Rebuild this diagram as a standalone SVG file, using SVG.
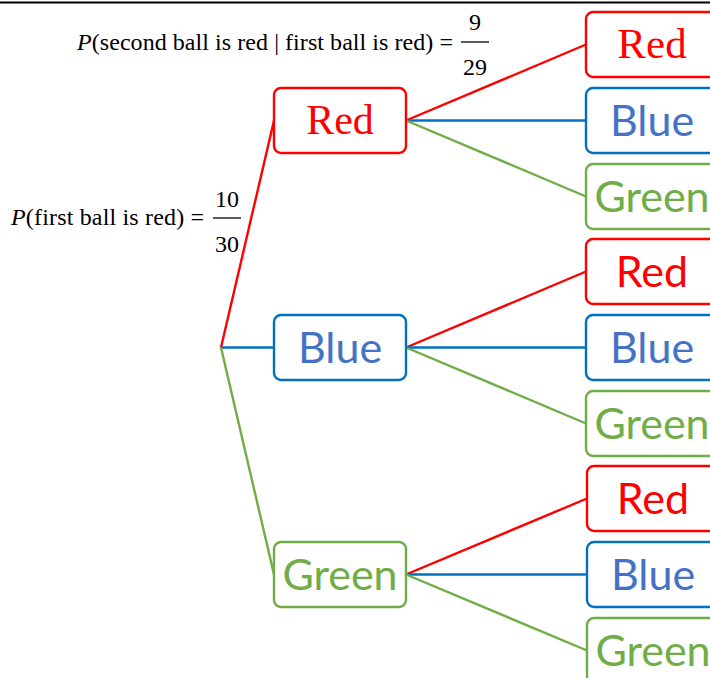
<svg xmlns="http://www.w3.org/2000/svg" width="710" height="678" viewBox="0 0 710 678">
  <style>
    .box { fill: #ffffff; stroke-width: 2.4; }
    .r { stroke: #ff0000; }
    .b { stroke: #0070c0; }
    .g { stroke: #70ad47; }
    .edge { fill: none; stroke-width: 2.4; }
    .serif { font-family: "Liberation Serif", "Times New Roman", serif; }
    .sans { font-family: Lato, "Open Sans", sans-serif; font-size: 43px; }
    .lab { text-anchor: middle; }
    .tr { fill: #ff0000; }
    .tb { fill: #4472c4; }
    .tg { fill: #70ad47; }
    .math { font-family: "Liberation Serif", "Times New Roman", serif; font-size: 24px; fill: #000000; }
  </style>

  <!-- rule across the top -->
  <line x1="0" y1="2.5" x2="710" y2="2.5" stroke="#000000" stroke-width="2"/>

  <!-- probability annotations -->
  <g id="formula-second">
    <text class="math" x="77" y="50" textLength="376" lengthAdjust="spacing"><tspan font-style="italic">P</tspan>(second ball is red | first ball is red) =</text>
    <text class="math" x="475" y="30" text-anchor="middle">9</text>
    <line x1="461" y1="42" x2="489" y2="42" stroke="#000000" stroke-width="1.3"/>
    <text class="math" x="475" y="75" text-anchor="middle">29</text>
  </g>
  <g id="formula-first">
    <text class="math" x="11" y="225" textLength="193" lengthAdjust="spacing"><tspan font-style="italic">P</tspan>(first ball is red) =</text>
    <text class="math" x="227" y="207" text-anchor="middle">10</text>
    <line x1="213" y1="218" x2="241" y2="218" stroke="#000000" stroke-width="1.3"/>
    <text class="math" x="227" y="252" text-anchor="middle">30</text>
  </g>

  <!-- connectors -->
  <g id="connectors">
    <line class="edge r" x1="221" y1="347.5" x2="274" y2="120.5"/>
    <line class="edge b" x1="221" y1="347.5" x2="274" y2="347.5"/>
    <line class="edge g" x1="221" y1="347.5" x2="274" y2="574.5"/>

    <line class="edge r" x1="406" y1="120.5" x2="586" y2="44.5"/>
    <line class="edge b" x1="406" y1="120.5" x2="586" y2="120.5"/>
    <line class="edge g" x1="406" y1="120.5" x2="586" y2="196.5"/>

    <line class="edge r" x1="406" y1="347.5" x2="586" y2="271.5"/>
    <line class="edge b" x1="406" y1="347.5" x2="586" y2="347.5"/>
    <line class="edge g" x1="406" y1="347.5" x2="586" y2="423.5"/>

    <line class="edge r" x1="406" y1="574.5" x2="587" y2="498.5"/>
    <line class="edge b" x1="406" y1="574.5" x2="587" y2="574.5"/>
    <line class="edge g" x1="406" y1="574.5" x2="587" y2="650.5"/>
  </g>

  <!-- first draw -->
  <g id="red1">
    <rect class="box r" x="274" y="88" width="132" height="65" rx="7"/>
    <text class="serif lab tr" x="340" y="133.5" font-size="42">Red</text>
  </g>
  <g id="blue1">
    <rect class="box b" x="274" y="315" width="132" height="65" rx="7"/>
    <text class="sans lab tb" x="340" y="362.5">Blue</text>
  </g>
  <g id="green1">
    <rect class="box g" x="274" y="542" width="132" height="65" rx="7"/>
    <text class="sans lab tg" x="340" y="589.5">Green</text>
  </g>

  <!-- second draw after red -->
  <g id="red1-red2">
    <rect class="box r" x="586" y="12" width="132" height="65" rx="7"/>
    <text class="serif lab tr" x="652" y="58" font-size="43">Red</text>
  </g>
  <g id="red1-blue2">
    <rect class="box b" x="586" y="88" width="132" height="65" rx="7"/>
    <text class="sans lab tb" x="652" y="135.5">Blue</text>
  </g>
  <g id="red1-green2">
    <rect class="box g" x="586" y="164" width="132" height="65" rx="7"/>
    <text class="sans lab tg" x="652" y="211.5">Green</text>
  </g>

  <!-- second draw after blue -->
  <g id="blue1-red2">
    <rect class="box r" x="586" y="239" width="132" height="65" rx="7"/>
    <text class="sans lab tr" x="652" y="286.5">Red</text>
  </g>
  <g id="blue1-blue2">
    <rect class="box b" x="586" y="315" width="132" height="65" rx="7"/>
    <text class="sans lab tb" x="652" y="362.5">Blue</text>
  </g>
  <g id="blue1-green2">
    <rect class="box g" x="586" y="391" width="132" height="65" rx="7"/>
    <text class="sans lab tg" x="652" y="438.5">Green</text>
  </g>

  <!-- second draw after green -->
  <g id="green1-red2">
    <rect class="box r" x="587" y="466" width="132" height="65" rx="7"/>
    <text class="sans lab tr" x="653" y="513.5">Red</text>
  </g>
  <g id="green1-blue2">
    <rect class="box b" x="587" y="542" width="132" height="65" rx="7"/>
    <text class="sans lab tb" x="653" y="589.5">Blue</text>
  </g>
  <g id="green1-green2">
    <rect class="box g" x="587" y="618" width="132" height="65" rx="7"/>
    <text class="sans lab tg" x="653" y="665.5">Green</text>
  </g>
</svg>
